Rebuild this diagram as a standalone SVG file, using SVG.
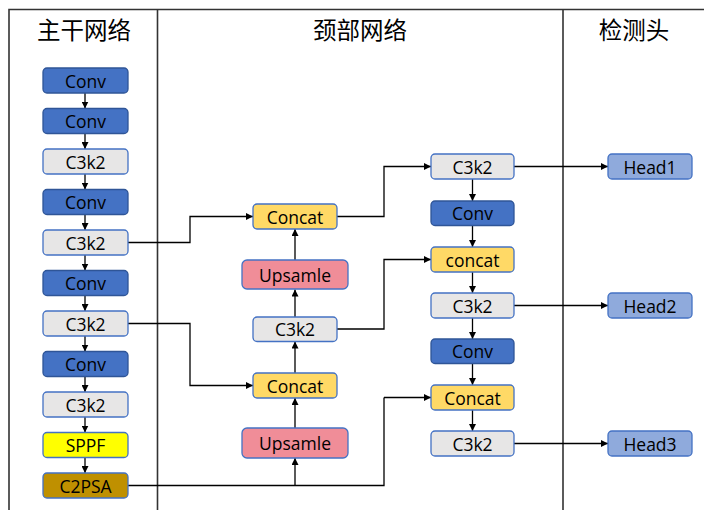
<svg xmlns="http://www.w3.org/2000/svg" width="704" height="510" viewBox="0 0 704 510">
<defs>
<marker id="ah" viewBox="0 0 10 10" refX="10" refY="5" markerWidth="7" markerHeight="7" markerUnits="userSpaceOnUse" orient="auto">
<path d="M0,0 L10,5 L0,10 z" fill="#000"/>
</marker>
<style>
.n rect{stroke-width:1.3}
.conv rect{fill:#4472C4;stroke:#2F5597}
.c3 rect{fill:#E7E6E6;stroke:#4472C4}
.sppf rect{fill:#FFFF00;stroke:#4472C4}
.c2psa rect{fill:#BF9000;stroke:#4472C4}
.cat rect{fill:#FFD966;stroke:#4472C4}
.up rect{fill:#F08D98;stroke:#4472C4}
.head rect{fill:#8FAADC;stroke:#4472C4}
.n text{font-family:"Open Sans","Noto Sans","Liberation Sans",sans-serif;font-size:17.5px;fill:#000;text-anchor:middle;dominant-baseline:central}
.hdr{font-family:"Noto Sans CJK SC","Noto Sans",sans-serif;font-size:23.5px;fill:#000;text-anchor:middle}
.frame{stroke:#333;stroke-width:1.6;fill:none}
#connectors path{stroke:#000;stroke-width:1.3;fill:none;marker-end:url(#ah)}
#connectors path.nm{marker-end:none}
</style>
</defs>
<rect width="704" height="510" fill="#fff"/>
<g id="frame">
<path class="frame" d="M9,510 V9.5 H704 M157.5,9.5 V510 M563,9.5 V510"/>
<text class="hdr" x="84" y="38.5">主干网络</text>
<text class="hdr" x="360" y="38.5">颈部网络</text>
<text class="hdr" x="634" y="38.5">检测头</text>
</g>
<g id="connectors">
<path d="M85,93 V108.5"/>
<path d="M85,133.5 V149"/>
<path d="M85,174 V189.5"/>
<path d="M85,214.5 V230"/>
<path d="M85,255 V270.5"/>
<path d="M85,295.5 V311"/>
<path d="M85,336 V351.5"/>
<path d="M85,376.5 V392"/>
<path d="M85,417 V432.5"/>
<path d="M85,457.5 V473"/>
<path d="M128,242.5 H190 V216.5 H253"/>
<path d="M128,323.5 H190 V385.5 H253"/>
<path class="nm" d="M128,485.5 H384 V397.5"/>
<path d="M384,397.5 H431"/>
<path d="M295,485.5 V458"/>
<path d="M295,428 V398"/>
<path d="M295,373 V341.5"/>
<path d="M295,317 V289.5"/>
<path d="M295,260 V229"/>
<path d="M337,216.5 H384 V166.5 H431"/>
<path d="M337,329 H384 V259.5 H431"/>
<path d="M472.5,179 V201"/>
<path d="M472.5,225.5 V247"/>
<path d="M472.5,272 V293"/>
<path d="M472.5,318 V339"/>
<path d="M472.5,363.5 V385"/>
<path d="M472.5,410 V431"/>
<path d="M514,166.5 H608"/>
<path d="M514,305.5 H608"/>
<path d="M514,443.5 H608"/>
</g>
<g id="b1" class="n conv"><rect x="43" y="68" width="85" height="25" rx="4"/><text x="85.5" y="80.5">Conv</text></g>
<g id="b2" class="n conv"><rect x="43" y="108.5" width="85" height="25" rx="4"/><text x="85.5" y="121">Conv</text></g>
<g id="b3" class="n c3"><rect x="43" y="149" width="85" height="25" rx="4"/><text x="85.5" y="161.5">C3k2</text></g>
<g id="b4" class="n conv"><rect x="43" y="189.5" width="85" height="25" rx="4"/><text x="85.5" y="202">Conv</text></g>
<g id="b5" class="n c3"><rect x="43" y="230" width="85" height="25" rx="4"/><text x="85.5" y="242.5">C3k2</text></g>
<g id="b6" class="n conv"><rect x="43" y="270.5" width="85" height="25" rx="4"/><text x="85.5" y="283">Conv</text></g>
<g id="b7" class="n c3"><rect x="43" y="311" width="85" height="25" rx="4"/><text x="85.5" y="323.5">C3k2</text></g>
<g id="b8" class="n conv"><rect x="43" y="351.5" width="85" height="25" rx="4"/><text x="85.5" y="364">Conv</text></g>
<g id="b9" class="n c3"><rect x="43" y="392" width="85" height="25" rx="4"/><text x="85.5" y="404.5">C3k2</text></g>
<g id="b10" class="n sppf"><rect x="43" y="432.5" width="85" height="25" rx="4"/><text x="85.5" y="445">SPPF</text></g>
<g id="b11" class="n c2psa"><rect x="43" y="473" width="85" height="25" rx="4"/><text x="85.5" y="485.5">C2PSA</text></g>
<g id="n1" class="n cat"><rect x="253" y="204" width="84" height="25" rx="4"/><text x="295" y="216.5">Concat</text></g>
<g id="n2" class="n up"><rect x="242" y="260" width="106" height="29" rx="5"/><text x="295" y="274.5">Upsamle</text></g>
<g id="n3" class="n c3"><rect x="253" y="317" width="84" height="24.5" rx="4"/><text x="295" y="329">C3k2</text></g>
<g id="n4" class="n cat"><rect x="253" y="373" width="84" height="25" rx="4"/><text x="295" y="385.5">Concat</text></g>
<g id="n5" class="n up"><rect x="242" y="428" width="106" height="30" rx="5"/><text x="295" y="443">Upsamle</text></g>
<g id="r1" class="n c3"><rect x="431" y="154" width="83" height="25" rx="4"/><text x="472.5" y="166.5">C3k2</text></g>
<g id="r2" class="n conv"><rect x="431" y="201" width="83" height="24.5" rx="4"/><text x="472.5" y="213">Conv</text></g>
<g id="r3" class="n cat"><rect x="431" y="247" width="83" height="25" rx="4"/><text x="472.5" y="259.5">concat</text></g>
<g id="r4" class="n c3"><rect x="431" y="293" width="83" height="25" rx="4"/><text x="472.5" y="305.5">C3k2</text></g>
<g id="r5" class="n conv"><rect x="431" y="339" width="83" height="24.5" rx="4"/><text x="472.5" y="351">Conv</text></g>
<g id="r6" class="n cat"><rect x="431" y="385" width="83" height="25" rx="4"/><text x="472.5" y="397.5">Concat</text></g>
<g id="r7" class="n c3"><rect x="431" y="431" width="83" height="25" rx="4"/><text x="472.5" y="443.5">C3k2</text></g>
<g id="h1" class="n head"><rect x="608" y="154" width="84" height="25" rx="4"/><text x="650" y="166.5">Head1</text></g>
<g id="h2" class="n head"><rect x="608" y="293" width="84" height="25" rx="4"/><text x="650" y="305.5">Head2</text></g>
<g id="h3" class="n head"><rect x="608" y="431" width="84" height="25" rx="4"/><text x="650" y="443.5">Head3</text></g>
</svg>
